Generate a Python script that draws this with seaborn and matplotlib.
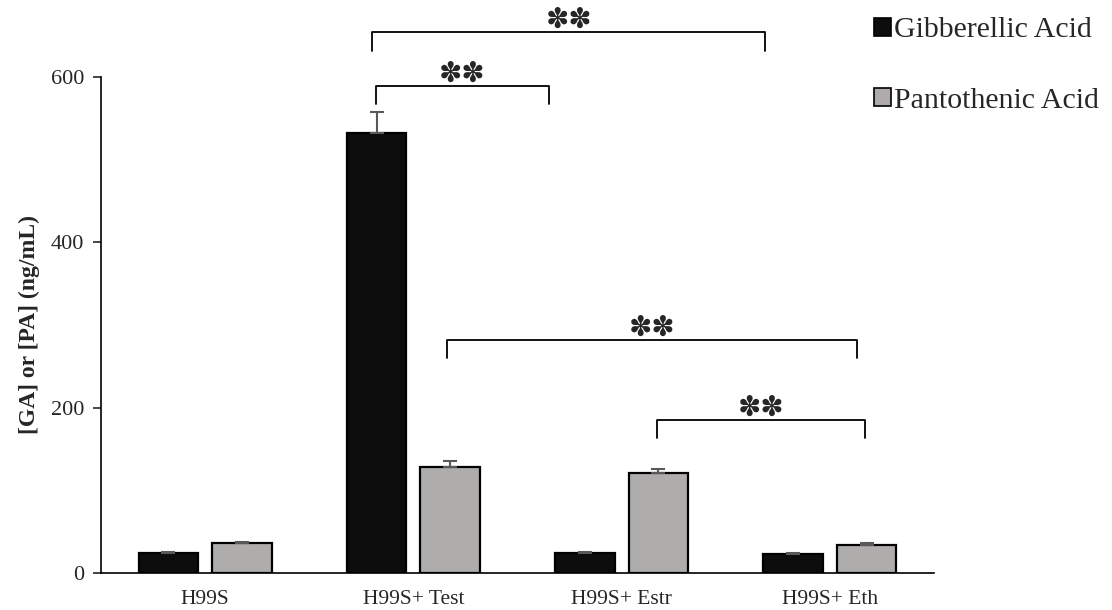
import pandas as pd
import matplotlib.pyplot as plt
import seaborn as sns
from matplotlib.patches import Patch

groups = ["H99S", "H99S+ Test", "H99S+ Estr", "H99S+ Eth"]
acids = ["Gibberellic Acid", "Pantothenic Acid"]
ga_vals = [24, 532, 24, 23]
ga_err = [1, 26, 1, 1]
pa_vals = [36, 128, 121, 34]
pa_err = [2, 7, 5, 2]
colors = ["#0d0d0d", "#afabab"]

# significance brackets: x start, x end, height, label
brackets = [
    (0.80, 2.69, 654, "**"),
    (0.82, 1.65, 589, "**"),
    (1.16, 3.13, 282, "**"),
    (2.17, 3.17, 185, "**"),
]

df = pd.DataFrame({
    "group": groups * 2,
    "acid": [acids[0]] * 4 + [acids[1]] * 4,
    "value": ga_vals + pa_vals,
})

sns.set_style("white")
plt.rcParams["font.family"] = ["Liberation Serif", "DejaVu Sans"]

fig = plt.figure(figsize=(11.12, 6.10), dpi=100)
ax = fig.add_axes([101 / 1112, 1 - 573 / 610, (934 - 101) / 1112, (573 - 77) / 610])

sns.barplot(data=df, x="group", y="value", hue="acid", palette=colors,
            width=0.705, gap=0.19, edgecolor="black", linewidth=1.6,
            errorbar=None, legend=False, ax=ax)

for cont, errs in zip(ax.containers, [ga_err, pa_err]):
    for bar, e in zip(cont, errs):
        xc = bar.get_x() + bar.get_width() / 2
        ax.errorbar(xc, bar.get_height(), yerr=[[0], [e]], color="#595959",
                    capsize=5, elinewidth=1.5, capthick=1.5, zorder=1)

for x1, x2, y, lab in brackets:
    h = 22
    ax.plot([x1, x1, x2, x2], [y - h, y, y, y - h], color="black", lw=1.3,
            clip_on=False)
    ax.text((x1 + x2) / 2, y + 15, "\u273d\u273d", ha="center", va="center",
            fontsize=20, family="DejaVu Sans", clip_on=False)

ax.set_xlim(-0.5, 3.5)
ax.set_ylim(0, 600)
ax.set_yticks([0, 200, 400, 600])
ax.set_xlabel("")
ax.set_ylabel("[GA] or [PA] (ng/mL)", fontsize=17, fontweight="bold",
              labelpad=8)
ax.tick_params(axis="x", length=0, labelsize=15.5, pad=12)
ax.tick_params(axis="y", length=6, width=1.2, labelsize=16, left=True, pad=6)
for s in ["top", "right"]:
    ax.spines[s].set_visible(False)
for s in ["left", "bottom"]:
    ax.spines[s].set_color("black")
    ax.spines[s].set_linewidth(1.2)

handles = [Patch(facecolor=c, edgecolor="black", linewidth=1.2) for c in colors]
fig.legend(handles, acids, loc="upper left", bbox_to_anchor=(0.762, 1.016),
           frameon=False, fontsize=21.5, handlelength=0.55, handleheight=0.55,
           handletextpad=0.12, labelspacing=1.5)

fig.savefig("out.png", dpi=100)
